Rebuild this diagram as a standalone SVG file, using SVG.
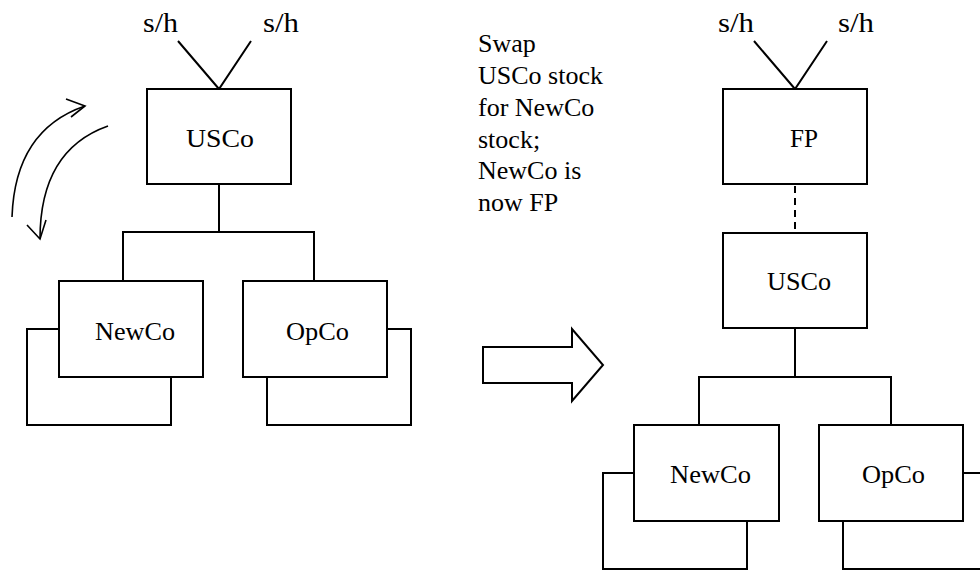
<svg xmlns="http://www.w3.org/2000/svg" width="980" height="571" viewBox="0 0 980 571">
  <style>
    .box { fill: #ffffff; stroke: #000000; stroke-width: 2; }
    .back { fill: none; stroke: #000000; stroke-width: 2; }
    .line { fill: none; stroke: #000000; stroke-width: 2; }
    .dash { fill: none; stroke: #000000; stroke-width: 2; stroke-dasharray: 7 5; }
    .curve { fill: none; stroke: #000000; stroke-width: 1.6; }
    .label { font-family: "Liberation Serif", "Times New Roman", serif; font-size: 26px; fill: #000000; }
    .sh { font-family: "Liberation Serif", "Times New Roman", serif; font-size: 28px; fill: #000000; }
  </style>

  <rect width="980" height="571" fill="#ffffff"/>

  <!-- Before: connectors -->
  <g id="connectors-before">
    <polyline class="line" points="178,41 219,89 251,41"/>
    <line class="line" x1="219" y1="184" x2="219" y2="232"/>
    <polyline class="line" points="123,281 123,232 314,232 314,281"/>
  </g>

  <!-- Before: shareholders -->
  <g id="sh-before">
    <text class="sh" x="143" y="32" textLength="35" lengthAdjust="spacingAndGlyphs">s/h</text>
    <text class="sh" x="263" y="32" textLength="36" lengthAdjust="spacingAndGlyphs">s/h</text>
  </g>

  <g id="usco-before">
    <rect class="box" x="147" y="89" width="144" height="95"/>
    <text class="label" x="186" y="147" textLength="68" lengthAdjust="spacingAndGlyphs">USCo</text>
  </g>

  <g id="newco-before">
    <rect class="back" x="27" y="329" width="144" height="96"/>
    <rect class="box" x="59" y="281" width="144" height="96"/>
    <text class="label" x="95" y="340" textLength="80" lengthAdjust="spacingAndGlyphs">NewCo</text>
  </g>

  <g id="opco-before">
    <rect class="back" x="267" y="329" width="144" height="96"/>
    <rect class="box" x="243" y="281" width="144" height="96"/>
    <text class="label" x="286" y="340" textLength="63" lengthAdjust="spacingAndGlyphs">OpCo</text>
  </g>

  <!-- Swap arrows -->
  <g id="swap-arrows">
    <path class="curve" d="M12,217 Q15,130 85,106"/>
    <polyline class="curve" points="66,99 85,106 71,117"/>
    <path class="curve" d="M108,126 Q40,150 40,239"/>
    <polyline class="curve" points="27,225 40,239 46,220"/>
  </g>

  <!-- Description -->
  <g id="description">
    <text class="label" x="478" y="52">Swap</text>
    <text class="label" x="478" y="84">USCo stock</text>
    <text class="label" x="478" y="116">for NewCo</text>
    <text class="label" x="478" y="148">stock;</text>
    <text class="label" x="478" y="179">NewCo is</text>
    <text class="label" x="478" y="211">now FP</text>
  </g>

  <!-- Transition arrow -->
  <g id="block-arrow">
    <polygon class="box" points="483,347 572,347 572,329 603,365 572,401 572,383 483,383"/>
  </g>

  <!-- After: connectors -->
  <g id="connectors-after">
    <polyline class="line" points="754,41 795,89 827,41"/>
    <line class="dash" x1="795" y1="186" x2="795" y2="232"/>
    <line class="line" x1="795" y1="328" x2="795" y2="377"/>
    <polyline class="line" points="699,425 699,377 891,377 891,425"/>
  </g>

  <g id="sh-after">
    <text class="sh" x="718" y="32" textLength="36" lengthAdjust="spacingAndGlyphs">s/h</text>
    <text class="sh" x="838" y="32" textLength="36" lengthAdjust="spacingAndGlyphs">s/h</text>
  </g>

  <g id="fp">
    <rect class="box" x="723" y="89" width="144" height="95"/>
    <text class="label" x="790" y="147" textLength="28" lengthAdjust="spacingAndGlyphs">FP</text>
  </g>

  <g id="usco-after">
    <rect class="box" x="723" y="233" width="144" height="95"/>
    <text class="label" x="767" y="290" textLength="64" lengthAdjust="spacingAndGlyphs">USCo</text>
  </g>

  <g id="newco-after">
    <rect class="back" x="603" y="473" width="144" height="96"/>
    <rect class="box" x="634" y="425" width="145" height="96"/>
    <text class="label" x="670" y="483" textLength="81" lengthAdjust="spacingAndGlyphs">NewCo</text>
  </g>

  <g id="opco-after">
    <rect class="back" x="843" y="473" width="144" height="96"/>
    <rect class="box" x="819" y="425" width="144" height="96"/>
    <text class="label" x="862" y="483" textLength="63" lengthAdjust="spacingAndGlyphs">OpCo</text>
  </g>
</svg>
